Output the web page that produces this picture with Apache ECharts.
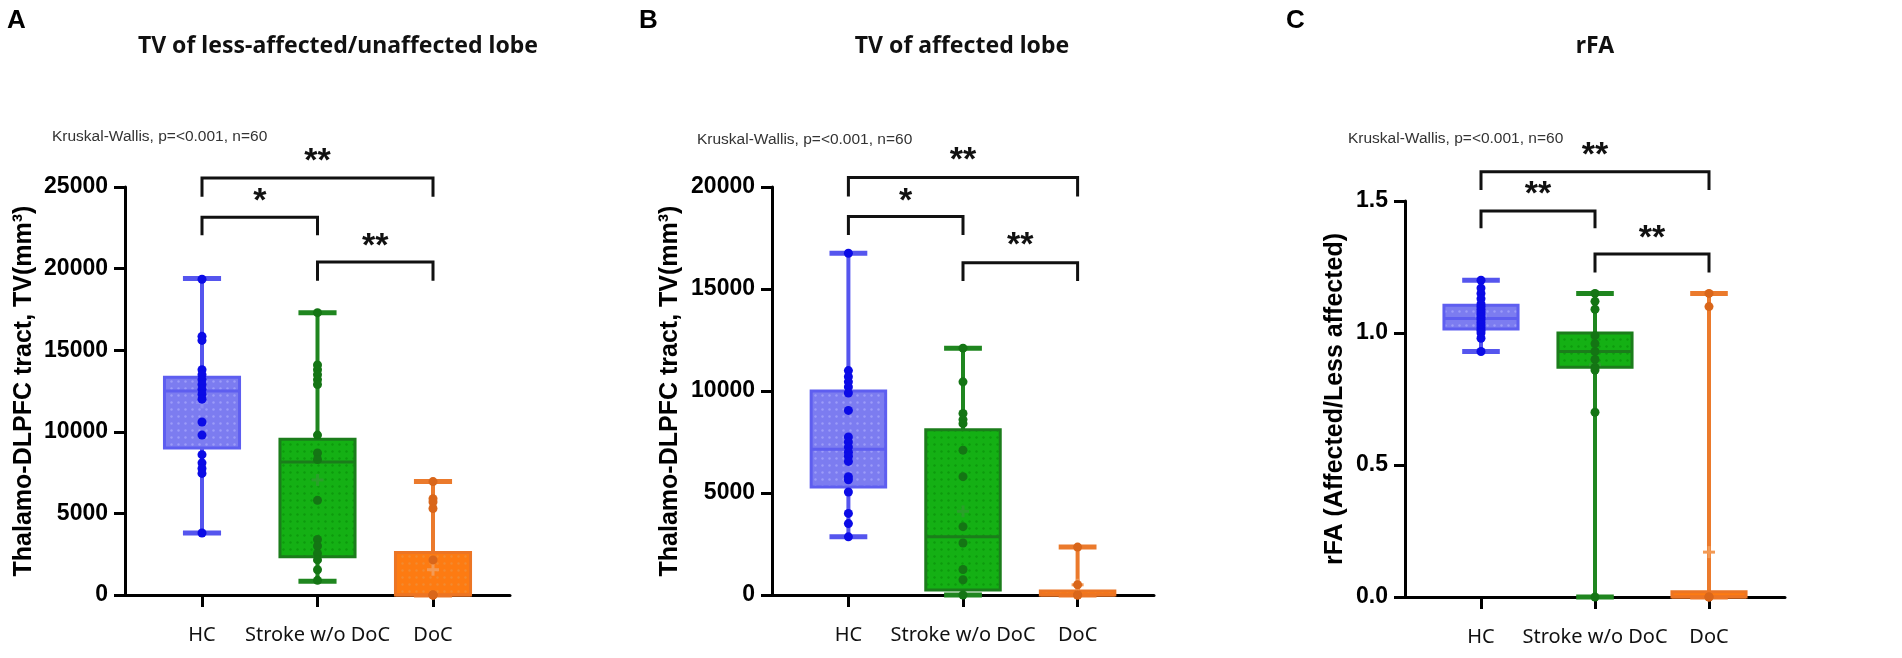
<!DOCTYPE html>
<html>
<head>
<meta charset="utf-8">
<script src="https://cdn.jsdelivr.net/npm/echarts@6/dist/echarts.min.js"></script>
<style>
  html, body { margin: 0; background: #fff; }
  #chart { width: 1902px; height: 658px; }
</style>
</head>
<body>
<div id="chart"></div>
<script>
const groups = ['HC', 'Stroke w/o DoC', 'DoC']

// box stats per group: [min, q1, median, q3, max, mean]
const boxA = [[3800, 9000, 12500, 13350, 19400, 11800], [850, 2350, 8150, 9550, 17300, 7050], [0, 0, 0, 2600, 6950, 1550]]
const boxB = [[2850, 5300, 7150, 10000, 16750, 7600], [0, 250, 2850, 8100, 12100, 4100], [0, 0, 0, 200, 2350, 500]]
const boxC = [[0.93, 1.015, 1.055, 1.105, 1.20, 1.065], [0, 0.87, 0.93, 1.0, 1.15, 0.88], [0, 0, 0, 0.02, 1.15, 0.17]]

// individual subjects
const pointsA = [
  [19350, 15850, 15600, 13800, 13500, 13200, 12900, 12600, 12300, 12000, 10600, 9800, 8600, 8100, 7750, 7450, 3800],
  [17300, 14100, 13800, 13500, 13200, 12900, 9800, 8700, 8300, 5800, 3400, 3000, 2550, 2150, 1550, 900],
  [6950, 5900, 5700, 5300, 2150, 0, 0, 0]
]
const pointsB = [
  [16750, 11000, 10700, 10450, 10200, 9900, 9050, 7750, 7500, 7250, 7000, 6800, 6550, 5800, 5650, 5050, 4000, 3500, 2850],
  [12100, 10450, 8900, 8600, 8400, 7100, 5800, 3350, 2550, 1250, 750, 0],
  [2350, 500, 0, 0]
]
const pointsC = [
  [1.20, 1.17, 1.15, 1.13, 1.11, 1.10, 1.09, 1.08, 1.07, 1.06, 1.05, 1.04, 1.03, 1.02, 1.01, 1.00, 0.98, 0.93],
  [1.15, 1.12, 1.09, 0.99, 0.96, 0.93, 0.90, 0.87, 0.86, 0.70, 0],
  [1.15, 1.10, 0, 0]
]

// significance brackets: [from, to, bar level, leg end, label level]
const bracketsA = [[1, 3, 25550, 24400, 26900], [1, 2, 23150, 22050, 24500], [2, 3, 20400, 19250, 21700]]
const bracketsB = [[1, 3, 20460, 19530, 21570], [1, 2, 18550, 17650, 19600], [2, 3, 16290, 15390, 17400]]
const bracketsC = [[1, 3, 1.611, 1.542, 1.693], [1, 2, 1.462, 1.397, 1.548], [2, 3, 1.299, 1.229, 1.380]]
const starsA = ['**', '*', '**']
const starsB = ['**', '*', '**']
const starsC = ['**', '**', '**']

const yTicksA = { max: 25000, interval: 5000 }
const yTicksB = { max: 20000, interval: 5000 }
const yTicksC = { max: 1.5, interval: 0.5 }

const palette = [
  { fill: '#7c7cf0', dot: '#9c9cf8', edge: '#5e5ef0', line: '#5555ee', point: '#0b0be6', mean: '#8c8cf4' },
  { fill: '#14b014', dot: '#0d9a0d', edge: '#1b7d1b', line: '#1f861f', point: '#147514', mean: '#2aa02a' },
  { fill: '#fd7b12', dot: '#f28a30', edge: '#ec7524', line: '#eb7a2c', point: '#d9661a', mean: '#f39a55' }
]

function makePattern(bg, dot) {
  const c = document.createElement('canvas')
  c.width = 7; c.height = 7
  const ctx = c.getContext('2d')
  ctx.fillStyle = bg
  ctx.fillRect(0, 0, 7, 7)
  ctx.fillStyle = dot
  ctx.beginPath()
  ctx.arc(3.5, 3.5, 1.2, 0, Math.PI * 2)
  ctx.fill()
  return c
}
const patterns = palette.map(p => makePattern(p.fill, p.dot))

const boxWidth = 0.65
const capWidth = 0.33

function renderBox(params, api) {
  const x = api.value(0)
  const mn = api.value(1), q1 = api.value(2), md = api.value(3), q3 = api.value(4), mx = api.value(5), mean = api.value(6)
  const c = palette[params.dataIndex]
  const half = api.size([boxWidth, 0])[0] / 2
  const capHalf = api.size([capWidth, 0])[0] / 2
  const cx = api.coord([x, md])[0]
  const y = v => api.coord([x, v])[1]
  const line = (x1, y1, x2, y2, stroke, w) => ({
    type: 'line', shape: { x1, y1, x2, y2 }, style: { stroke, lineWidth: w }
  })
  return {
    type: 'group',
    children: [
      line(cx, y(q3), cx, y(mx), c.line, 4),
      line(cx, y(mn), cx, y(q1), c.line, 4),
      line(cx - capHalf, y(mx), cx + capHalf, y(mx), c.line, 5),
      line(cx - capHalf, y(mn), cx + capHalf, y(mn), c.line, 5),
      {
        type: 'rect',
        shape: { x: cx - half, y: y(q3), width: half * 2, height: Math.max(y(q1) - y(q3), 2) },
        style: { fill: { image: patterns[params.dataIndex], repeat: 'repeat' }, stroke: c.edge, lineWidth: 3 }
      },
      line(cx - half, y(md), cx + half, y(md), c.edge, 3),
      line(cx - 6, y(mean), cx + 6, y(mean), c.mean, 3),
      line(cx, y(mean) - 6, cx, y(mean) + 6, c.mean, 3)
    ]
  }
}

function bracketRenderer(stars) {
  return (params, api) => {
    const x1 = api.coord([api.value(0), api.value(2)])
    const x2 = api.coord([api.value(1), api.value(2)])
    const leg = api.coord([api.value(0), api.value(3)])[1]
    const txt = api.coord([(api.value(0) + api.value(1)) / 2, api.value(4)])
    return {
      type: 'group',
      children: [
        {
          type: 'polyline',
          shape: { points: [[x1[0], leg], [x1[0], x1[1]], [x2[0], x2[1]], [x2[0], leg]] },
          style: { stroke: '#111', lineWidth: 3, fill: null }
        },
        {
          type: 'text',
          x: txt[0], y: txt[1] + 6,
          style: {
            text: stars[params.dataIndex], fill: '#111', align: 'center', verticalAlign: 'middle',
            font: 'bold 34px "Liberation Sans", Arial, sans-serif'
          }
        }
      ]
    }
  }
}

const grids = [
  { left: 125, top: 187, width: 385, height: 408 },
  { left: 772, top: 187, width: 382, height: 408 },
  { left: 1405, top: 201, width: 380, height: 396 }
]
const yTicks = [yTicksA, yTicksB, yTicksC]
const yNames = ['Thalamo-DLPFC tract, TV(mm³)', 'Thalamo-DLPFC tract, TV(mm³)', 'rFA (Affected/Less affected)']
const nameGaps = [88, 89, 57]
const boxes = [boxA, boxB, boxC]
const points = [pointsA, pointsB, pointsC]
const brackets = [bracketsA, bracketsB, bracketsC]
const stars = [starsA, starsB, starsC]

const axisLineStyle = { color: '#000', width: 3 }

const xAxes = grids.map((g, i) => ({
  type: 'value', gridIndex: i, min: 1 / 3, max: 11 / 3,
  splitLine: { show: false },
  axisLine: { onZero: false, lineStyle: axisLineStyle },
  axisTick: { customValues: [1, 2, 3], length: 12, lineStyle: { color: '#000', width: 3 } },
  axisLabel: {
    customValues: [1, 2, 3], margin: 30, color: '#111',
    fontFamily: '"Noto Sans", sans-serif', fontSize: 20,
    formatter: v => groups[Math.round(v) - 1]
  }
}))

const yAxes = grids.map((g, i) => ({
  type: 'value', gridIndex: i, min: 0, max: yTicks[i].max, interval: yTicks[i].interval,
  name: yNames[i], nameLocation: 'middle', nameGap: nameGaps[i], nameMoveOverlap: false,
  nameTextStyle: { fontFamily: '"Liberation Sans", Arial, sans-serif', fontWeight: 'bold', fontSize: 25, color: '#000' },
  splitLine: { show: false },
  axisLine: { show: true, onZero: false, lineStyle: axisLineStyle },
  axisTick: { show: true, length: 11, lineStyle: { color: '#000', width: 3 } },
  axisLabel: {
    margin: 17, color: '#000', fontWeight: 'bold', fontSize: 23,
    fontFamily: '"Liberation Sans", Arial, sans-serif',
    formatter: v => i === 2 ? v.toFixed(1) : String(v)
  }
}))

const series = []
grids.forEach((g, i) => {
  series.push({
    type: 'custom', xAxisIndex: i, yAxisIndex: i, z: 2, clip: false,
    renderItem: renderBox,
    encode: { x: 0, y: [1, 2, 3, 4, 5] },
    data: boxes[i].map((b, k) => [k + 1, ...b])
  })
  points[i].forEach((vals, k) => {
    series.push({
      type: 'scatter', xAxisIndex: i, yAxisIndex: i, z: 3, symbolSize: 9,
      itemStyle: { color: palette[k].point, opacity: 1 },
      data: vals.map(v => [k + 1, v])
    })
  })
  series.push({
    type: 'custom', xAxisIndex: i, yAxisIndex: i, z: 4, clip: false, silent: true,
    renderItem: bracketRenderer(stars[i]),
    encode: { x: [0, 1], y: [2, 3, 4] },
    data: brackets[i]
  })
})

const panelText = [
  { letter: 'A', lx: 7, title: 'TV of less-affected/unaffected lobe', tx: 338, kx: 52, ky: 137 },
  { letter: 'B', lx: 639, title: 'TV of affected lobe', tx: 962, kx: 697, ky: 140 },
  { letter: 'C', lx: 1286, title: 'rFA', tx: 1595, kx: 1348, ky: 139 }
]
const graphic = []
panelText.forEach(p => {
  graphic.push({
    type: 'text', x: p.lx, y: 21,
    style: { text: p.letter, font: 'bold 26px "Liberation Sans", Arial, sans-serif', fill: '#000', verticalAlign: 'middle' }
  })
  graphic.push({
    type: 'text', x: p.tx, y: 46,
    style: { text: p.title, font: 'bold 23px "Noto Sans", sans-serif', fill: '#111', align: 'center', verticalAlign: 'middle' }
  })
  graphic.push({
    type: 'text', x: p.kx, y: p.ky,
    style: { text: 'Kruskal-Wallis, p=<0.001, n=60', font: '15.5px "Liberation Sans", Arial, sans-serif', fill: '#333', verticalAlign: 'middle' }
  })
})

const chart = echarts.init(document.getElementById('chart'))
chart.setOption({
  animation: false,
  backgroundColor: '#fff',
  grid: grids,
  xAxis: xAxes,
  yAxis: yAxes,
  series,
  graphic
})
</script>
</body>
</html>
